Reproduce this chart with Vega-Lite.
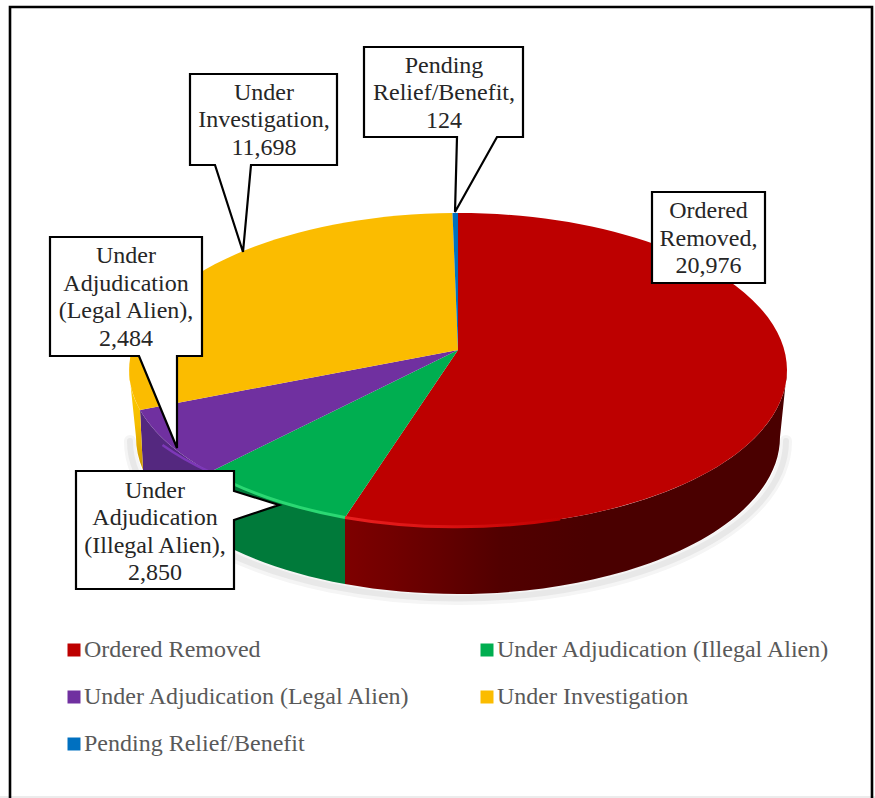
{"$schema":"https://vega.github.io/schema/vega-lite/v6.json","width":875,"height":798,"padding":0,"autosize":"none","background":"white","config":{"view":{"stroke":null}},
"datasets":{"d":[
{"status":"Ordered Removed","value":20976,"label":["Ordered","Removed,","20,976"]},
{"status":"Under Adjudication (Illegal Alien)","value":2850,"label":["Under","Adjudication","(Illegal Alien),","2,850"]},
{"status":"Under Adjudication (Legal Alien)","value":2484,"label":["Under","Adjudication","(Legal Alien),","2,484"]},
{"status":"Under Investigation","value":11698,"label":["Under","Investigation,","11,698"]},
{"status":"Pending Relief/Benefit","value":124,"label":["Pending","Relief/Benefit,","124"]}]},
"data":{"name":"d"},
"layer":[
{"mark":{"type":"square","size":0,"opacity":1},"encoding":{"color":{"field":"status","type":"nominal","scale":{"domain":["Ordered Removed","Under Adjudication (Illegal Alien)","Under Adjudication (Legal Alien)","Under Investigation","Pending Relief/Benefit"],"range":["#bd0000","#00ae50","#7030a0","#fbbc00","#0070c0"]},"legend":{"title":null,"orient":"none","legendX":62,"legendY":638,"columns":2,"direction":"horizontal","symbolType":"square","symbolSize":169,"symbolStrokeWidth":0,"symbolOpacity":1,"labelFont":"Liberation Serif","labelFontSize":24,"labelColor":"#595959","labelOffset":-2,"labelLimit":400,"columnPadding":63,"rowPadding":23}}}},
{"transform":[{"filter":{"field":"status","equal":"Ordered Removed"}}],"mark":{"type":"point","size":4,"opacity":1,"filled":false,"stroke":"#f5f5f5","strokeWidth":12,"strokeCap":"round","shape":"M348.5,42 A328,158 0 0 1 -307.5,42"}},
{"transform":[{"filter":{"field":"status","equal":"Ordered Removed"}}],"mark":{"type":"point","size":4,"opacity":1,"filled":false,"stroke":"#e8e8e8","strokeWidth":6,"strokeCap":"round","shape":"M348.5,42 A325,156 0 0 1 -307.5,42"}},
{"transform":[{"filter":{"field":"status","equal":"Ordered Removed"}}],"mark":{"type":"point","size":4,"opacity":1,"filled":true,"strokeWidth":0,"color":{"gradient":"linear","x1":0,"y1":0,"x2":1,"y2":0,"stops":[{"offset":0,"color":"#7e0000"},{"offset":0.12,"color":"#700000"},{"offset":0.35,"color":"#520000"},{"offset":0.55,"color":"#4a0000"},{"offset":1,"color":"#4a0000"}]},"shape":"M349.5,-29 A329,157 0 0 1 -92.5,118.45 L-92.5,185 A322,157 0 0 0 342.5,38 Z"}},
{"transform":[{"filter":{"field":"status","equal":"Under Adjudication (Illegal Alien)"}}],"mark":{"type":"point","size":4,"opacity":1,"filled":true,"strokeWidth":0,"color":"#007a3a","shape":"M-92.5,118.45 A329,157 0 0 1 -227.5,73 L-222.5,141 A322,157 0 0 0 -92.5,185 Z"}},
{"transform":[{"filter":{"field":"status","equal":"Under Adjudication (Legal Alien)"}}],"mark":{"type":"point","size":4,"opacity":1,"filled":true,"strokeWidth":0,"color":"#54287f","shape":"M-227.5,73 A329,157 0 0 1 -297.5,11 L-294.5,71 A322,157 0 0 0 -222.5,141 Z"}},
{"transform":[{"filter":{"field":"status","equal":"Under Investigation"}}],"mark":{"type":"point","size":4,"opacity":1,"filled":true,"strokeWidth":0,"color":{"gradient":"linear","x1":0,"y1":0,"x2":0,"y2":1,"stops":[{"offset":0,"color":"#ffd000"},{"offset":0.55,"color":"#f5bd00"},{"offset":1,"color":"#c99500"}]},"shape":"M-297.5,11 A329,157 0 0 1 -308.5,-29 L-301.5,38 A322,157 0 0 0 -294.5,71 Z"}},
{"transform":[{"filter":{"field":"status","equal":"Ordered Removed"}}],"mark":{"type":"point","size":4,"opacity":1,"filled":true,"strokeWidth":0,"shape":"M20.5,-49 L20.5,-186 A329,157 0 1 1 -92.5,118.45 Z"},"encoding":{"color":{"field":"status","type":"nominal","legend":null}}},
{"transform":[{"filter":{"field":"status","equal":"Under Adjudication (Illegal Alien)"}}],"mark":{"type":"point","size":4,"opacity":1,"filled":true,"strokeWidth":0,"shape":"M20.5,-49 L-92.5,118.45 A329,157 0 0 1 -227.5,73 Z"},"encoding":{"color":{"field":"status","type":"nominal","legend":null}}},
{"transform":[{"filter":{"field":"status","equal":"Under Adjudication (Legal Alien)"}}],"mark":{"type":"point","size":4,"opacity":1,"filled":true,"strokeWidth":0,"shape":"M20.5,-49 L-227.5,73 A329,157 0 0 1 -297.5,11 Z"},"encoding":{"color":{"field":"status","type":"nominal","legend":null}}},
{"transform":[{"filter":{"field":"status","equal":"Under Investigation"}}],"mark":{"type":"point","size":4,"opacity":1,"filled":true,"strokeWidth":0,"shape":"M20.5,-49 L-297.5,11 A329,157 0 0 1 15,-186 Z"},"encoding":{"color":{"field":"status","type":"nominal","legend":null}}},
{"transform":[{"filter":{"field":"status","equal":"Pending Relief/Benefit"}}],"mark":{"type":"point","size":4,"opacity":1,"filled":true,"strokeWidth":0,"shape":"M20.5,-49 L15,-186 A329,157 0 0 1 20.5,-186 Z"},"encoding":{"color":{"field":"status","type":"nominal","legend":null}}},
{"transform":[{"filter":{"field":"status","equal":"Ordered Removed"}}],"mark":{"type":"point","size":4,"opacity":1,"filled":false,"strokeWidth":3,"stroke":{"gradient":"linear","x1":0,"y1":0,"x2":1,"y2":0,"stops":[{"offset":0,"color":"#e92020"},{"offset":0.5,"color":"#d81010"},{"offset":1,"color":"#c00000"}]},"shape":"M-92.5,118.45 A329,157 0 0 0 122.5,120"}},
{"transform":[{"filter":{"field":"status","equal":"Under Adjudication (Illegal Alien)"}}],"mark":{"type":"point","size":4,"opacity":1,"filled":false,"strokeWidth":3,"stroke":"#2bd873","shape":"M-92.5,118.45 A329,157 0 0 1 -227.5,73"}},
{"transform":[{"filter":{"field":"status","equal":"Under Adjudication (Legal Alien)"}}],"mark":{"type":"point","size":4,"opacity":1,"filled":false,"strokeWidth":2.5,"stroke":"#7d38b8","shape":"M-227.5,73 A329,157 0 0 1 -275,46"}},
{"transform":[{"filter":{"field":"status","equal":"Ordered Removed"}}],"mark":{"type":"point","size":4,"opacity":1,"filled":true,"fill":"white","stroke":"black","strokeWidth":2.2,"shape":"M214.5,-207 L327.5,-207 L327.5,-116 L214.5,-116 Z"}},
{"transform":[{"filter":{"field":"status","equal":"Pending Relief/Benefit"}}],"mark":{"type":"point","size":4,"opacity":1,"filled":true,"fill":"white","stroke":"black","strokeWidth":2.2,"shape":"M-73.5,-352 L85.5,-352 L85.5,-262 L59.5,-262 L17.5,-187 L19.5,-262 L-73.5,-262 Z"}},
{"transform":[{"filter":{"field":"status","equal":"Under Investigation"}}],"mark":{"type":"point","size":4,"opacity":1,"filled":true,"fill":"white","stroke":"black","strokeWidth":2.2,"shape":"M-247.5,-325 L-100.5,-325 L-100.5,-234 L-186.5,-234 L-194.5,-147 L-222.5,-234 L-247.5,-234 Z"}},
{"transform":[{"filter":{"field":"status","equal":"Under Adjudication (Legal Alien)"}}],"mark":{"type":"point","size":4,"opacity":1,"filled":true,"fill":"white","stroke":"black","strokeWidth":2.2,"shape":"M-387.5,-162 L-235.5,-162 L-235.5,-43 L-260.5,-43 L-260.5,49 L-298.5,-43 L-387.5,-43 Z"}},
{"transform":[{"filter":{"field":"status","equal":"Under Adjudication (Illegal Alien)"}}],"mark":{"type":"point","size":4,"opacity":1,"filled":true,"fill":"white","stroke":"black","strokeWidth":2.2,"shape":"M-361.5,72 L-203.5,72 L-203.5,92 L-158.5,106 L-203.5,121 L-203.5,190 L-361.5,190 Z"}},
{"transform":[{"filter":{"field":"status","equal":"Ordered Removed"}}],"mark":{"type":"text","font":"Liberation Serif","fontSize":24,"lineHeight":27.5,"color":"#262626","align":"center","baseline":"middle","dx":271,"dy":-188},"encoding":{"text":{"field":"label"}}},
{"transform":[{"filter":{"field":"status","equal":"Pending Relief/Benefit"}}],"mark":{"type":"text","font":"Liberation Serif","fontSize":24,"lineHeight":27.5,"color":"#262626","align":"center","baseline":"middle","dx":6.5,"dy":-333.5},"encoding":{"text":{"field":"label"}}},
{"transform":[{"filter":{"field":"status","equal":"Under Investigation"}}],"mark":{"type":"text","font":"Liberation Serif","fontSize":24,"lineHeight":27.5,"color":"#262626","align":"center","baseline":"middle","dx":-173.5,"dy":-306.5},"encoding":{"text":{"field":"label"}}},
{"transform":[{"filter":{"field":"status","equal":"Under Adjudication (Legal Alien)"}}],"mark":{"type":"text","font":"Liberation Serif","fontSize":24,"lineHeight":27.5,"color":"#262626","align":"center","baseline":"middle","dx":-311.5,"dy":-142.75},"encoding":{"text":{"field":"label"}}},
{"transform":[{"filter":{"field":"status","equal":"Under Adjudication (Illegal Alien)"}}],"mark":{"type":"text","font":"Liberation Serif","fontSize":24,"lineHeight":27.5,"color":"#262626","align":"center","baseline":"middle","dx":-282.5,"dy":91.75},"encoding":{"text":{"field":"label"}}},
{"transform":[{"filter":{"field":"status","equal":"Ordered Removed"}}],"mark":{"type":"point","size":4,"opacity":1,"filled":false,"stroke":"#e6e6e6","strokeWidth":1.5,"shape":"M-437.5,398 L437.5,398"}},
{"transform":[{"filter":{"field":"status","equal":"Ordered Removed"}}],"mark":{"type":"point","size":4,"opacity":1,"filled":false,"stroke":"black","strokeWidth":2.6,"shape":"M-427.5,401 L-427.5,-392 L434.5,-392 L434.5,401"}}
]}
